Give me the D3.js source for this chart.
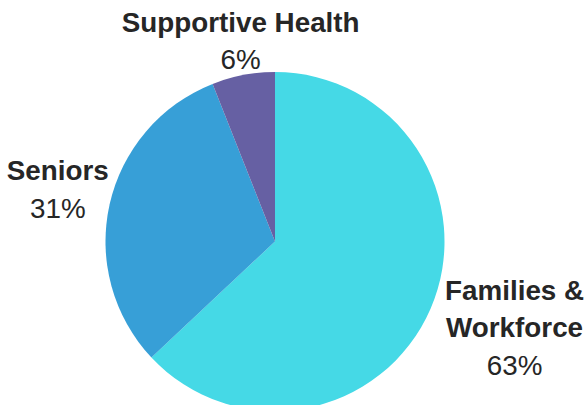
<!DOCTYPE html>
<html>
<head>
<meta charset="utf-8">
<script src="https://cdn.jsdelivr.net/npm/d3@7"></script>
<style>
  html, body { margin: 0; padding: 0; background: #fff; }
  svg { display: block; }
</style>
</head>
<body>
<svg id="chart" width="584" height="405"></svg>
<script>
// Funding share by program area (percent), clockwise from 12 o'clock
const categories = ["Families &\nWorkforce", "Seniors", "Supportive Health"];
const shares = [63, 31, 6];
const colors = ["#45D9E6", "#379FD7", "#6660A3"];

const width = 584, height = 405;
const cx = 275, cy = 241.5, radius = 169.5;
const labelRadius = radius + 30;
const lineHeight = 37.5;
// nudges that move each label block off its leader point
const labelNudge = [[56.5, 16.5], [-22.5, 1], [3, 5]];

const svg = d3.select("#chart");
const g = svg.append("g").attr("transform", `translate(${cx},${cy})`);

const pie = d3.pie().sort(null).value(d => d);
const arcs = pie(shares);

const arc = d3.arc().innerRadius(0).outerRadius(radius);
const labelArc = d3.arc().innerRadius(labelRadius).outerRadius(labelRadius);

g.selectAll("path.slice")
  .data(arcs)
  .join("path")
  .attr("class", "slice")
  .attr("d", arc)
  .attr("fill", (d, i) => colors[i]);

const labels = g.selectAll("text.label")
  .data(arcs)
  .join("text")
  .attr("class", "label")
  .attr("text-anchor", "middle")
  .attr("font-family", "'Liberation Sans', Arial, sans-serif")
  .attr("font-size", 27.8)
  .attr("fill", "#262626");

labels.each(function(d, i) {
  const [px, py] = labelArc.centroid(d);
  const x = px + labelNudge[i][0];
  const lines = categories[i].split("\n");
  const total = lines.length + 1;
  const y0 = py + labelNudge[i][1] - (total - 1) * lineHeight / 2;
  const t = d3.select(this);
  lines.forEach((ln, k) => {
    t.append("tspan")
      .attr("x", x)
      .attr("y", y0 + k * lineHeight)
      .attr("font-weight", "bold")
      .text(ln);
  });
  t.append("tspan")
    .attr("x", x)
    .attr("y", y0 + lines.length * lineHeight)
    .text(d3.format("d")(d.data) + "%");
});
</script>
</body>
</html>
